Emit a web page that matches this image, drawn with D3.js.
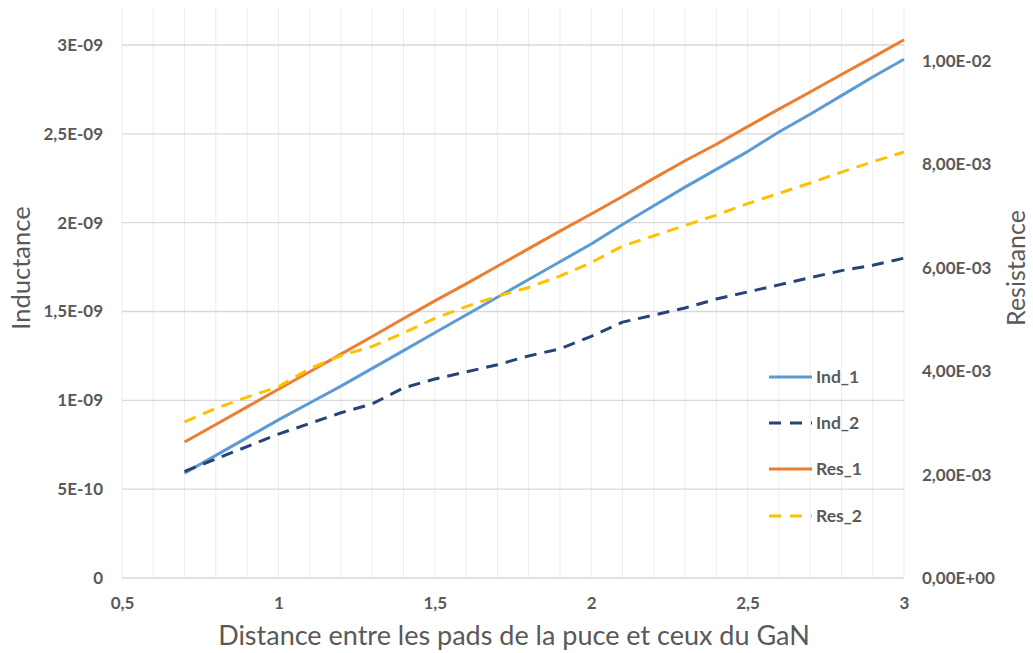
<!DOCTYPE html>
<html><head><meta charset="utf-8">
<script src="https://cdn.jsdelivr.net/npm/d3@7"></script>
<style>
html,body{margin:0;padding:0;background:#fff;}
svg{display:block;}
text{font-family:Lato,"Open Sans",sans-serif;}
</style></head>
<body>
<svg id="chart" width="1033" height="653"></svg>
<script>
const xValues = [0.7,0.8,0.9,1.0,1.1,1.2,1.3,1.4,1.5,1.6,1.7,1.8,1.9,2.0,2.1,2.2,2.3,2.4,2.5,2.6,2.7,2.8,2.9,3.0];
// Inductance (H), left axis
const ind1 = [0.59,0.69,0.79,0.89,0.985,1.08,1.18,1.28,1.38,1.48,1.58,1.68,1.78,1.88,1.99,2.095,2.20,2.30,2.40,2.51,2.61,2.715,2.82,2.92].map(v=>v*1e-9);
const ind2 = [0.60,0.67,0.74,0.81,0.87,0.93,0.98,1.07,1.12,1.16,1.20,1.25,1.29,1.36,1.44,1.48,1.52,1.57,1.61,1.65,1.69,1.73,1.76,1.80].map(v=>v*1e-9);
// Resistance (Ohm), right axis
const res1 = [2.63,2.97,3.31,3.65,3.99,4.33,4.67,5.02,5.36,5.69,6.03,6.37,6.71,7.04,7.38,7.73,8.07,8.39,8.73,9.07,9.40,9.74,10.07,10.41].map(v=>v*1e-3);
const res2 = [3.02,3.28,3.50,3.70,4.05,4.30,4.48,4.74,5.02,5.25,5.45,5.62,5.84,6.10,6.42,6.62,6.82,7.02,7.24,7.44,7.64,7.85,8.05,8.24].map(v=>v*1e-3);

const xTicks = [0.5,1,1.5,2,2.5,3];
const xTickLabels = ["0,5","1","1,5","2","2,5","3"];
const yLeftTicks = [0,5e-10,1e-9,1.5e-9,2e-9,2.5e-9,3e-9];
const yLeftTickLabels = ["0","5E-10","1E-09","1,5E-09","2E-09","2,5E-09","3E-09"];
const yRightTicks = [0,0.002,0.004,0.006,0.008,0.01];
const yRightTickLabels = ["0,00E+00","2,00E-03","4,00E-03","6,00E-03","8,00E-03","1,00E-02"];
const seriesNames = ["Ind_1","Ind_2","Res_1","Res_2"];

const svg = d3.select("#chart");
const plotL = 122, plotR = 904, plotB = 578, plotT = 8;
const x = d3.scaleLinear().domain([0.5,3]).range([plotL,plotR]);
const yL = d3.scaleLinear().domain([0,3e-9]).range([plotB,45]);
const yR = d3.scaleLinear().domain([0,0.01]).range([plotB,61]);

const grey = "#595959";
const tickFont = "17px";

// vertical minor gridlines every 0.1
const vgrid = d3.range(5,31).map(d=>d/10);
svg.append("g").selectAll("line").data(vgrid).join("line")
  .attr("x1",d=>x(d)).attr("x2",d=>x(d)).attr("y1",plotT).attr("y2",plotB)
  .attr("stroke","#ececec").attr("stroke-width",1);

// horizontal gridlines
svg.append("g").selectAll("line").data(yLeftTicks).join("line")
  .attr("x1",plotL).attr("x2",plotR).attr("y1",d=>yL(d)).attr("y2",d=>yL(d))
  .attr("stroke","#d9d9d9").attr("stroke-width",1.3);

// axes
const xAxis = d3.axisBottom(x).tickValues(xTicks).tickFormat((d,i)=>xTickLabels[i]).tickSize(0).tickPadding(19);
const gx = svg.append("g").attr("transform",`translate(0,${plotB})`).call(xAxis);
gx.select(".domain").remove();
gx.selectAll("text").attr("fill",grey).style("font-size",tickFont).style("font-weight","bold");

const yAxisL = d3.axisLeft(yL).tickValues(yLeftTicks).tickFormat((d,i)=>yLeftTickLabels[i]).tickSize(0).tickPadding(19);
const gyl = svg.append("g").attr("transform",`translate(${plotL},0)`).call(yAxisL);
gyl.select(".domain").remove();
gyl.selectAll("text").attr("fill",grey).style("font-size",tickFont).style("font-weight","bold");

const yAxisR = d3.axisRight(yR).tickValues(yRightTicks).tickFormat((d,i)=>yRightTickLabels[i]).tickSize(0).tickPadding(18);
const gyr = svg.append("g").attr("transform",`translate(${plotR},0)`).call(yAxisR);
gyr.select(".domain").remove();
gyr.selectAll("text").attr("fill",grey).style("font-size",tickFont).style("font-weight","bold");

// axis titles
svg.append("text").attr("transform","translate(30,268) rotate(-90)").attr("text-anchor","middle")
  .attr("fill",grey).style("font-size","25.5px").text("Inductance");
svg.append("text").attr("transform","translate(1025,268) rotate(-90)").attr("text-anchor","middle")
  .attr("fill",grey).style("font-size","25px").text("Resistance");
svg.append("text").attr("x",514).attr("y",645).attr("text-anchor","middle")
  .attr("fill",grey).style("font-size","27px").text("Distance entre les pads de la puce et ceux du GaN");

// series
const series = [
  {name:seriesNames[0], vals:ind1, scale:yL, color:"#5B9BD5", dash:null},
  {name:seriesNames[1], vals:ind2, scale:yL, color:"#264478", dash:"12,8"},
  {name:seriesNames[2], vals:res1, scale:yR, color:"#ED7D31", dash:null},
  {name:seriesNames[3], vals:res2, scale:yR, color:"#FFC000", dash:"12,8"}
];
series.forEach(s=>{
  const line = d3.line().x((d,j)=>x(xValues[j])).y(d=>s.scale(d));
  svg.append("path").datum(s.vals).attr("d",line)
    .attr("fill","none").attr("stroke",s.color).attr("stroke-width",3)
    .attr("stroke-linejoin","round")
    .attr("stroke-dasharray",s.dash);
});

// legend
const legY = [377,423,469,516];
const lg = svg.append("g");
series.forEach((s,i)=>{
  lg.append("line").attr("x1",769).attr("x2",812).attr("y1",legY[i]).attr("y2",legY[i])
    .attr("stroke",s.color).attr("stroke-width",3).attr("stroke-dasharray",s.dash?"12,9":null);
  lg.append("text").attr("x",816).attr("y",legY[i]).attr("dy","0.35em")
    .attr("fill",grey).style("font-size","17.5px").style("font-weight","bold").text(s.name);
});
</script>
</body></html>
